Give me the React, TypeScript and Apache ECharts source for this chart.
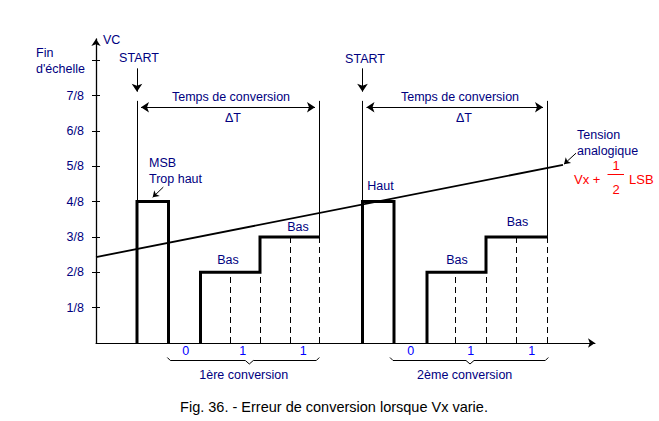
import React, { useEffect, useRef } from 'react';
import * as echarts from 'echarts';

// ---- data (time axis in arbitrary units, voltage in eighths of full scale) ----
const yTickValues = [1, 2, 3, 4, 5, 6, 7, 8];
const yLabelValues = [1, 2, 3, 4, 5, 6, 7];
const yTickLabels = ['1/8', '2/8', '3/8', '4/8', '5/8', '6/8', '7/8'];

const startTimes = [41, 266.5];
const msbEndTimes = [72.5, 298];
const stairStartTimes = [104.5, 331];
const halfBit1Times = [134, 359];
const stepTimes = [164, 390];
const halfBit2Times = [194, 420];
const endTimes = [223, 451];
const msbLevels = [4, 4];
const bit1Levels = [2, 2];
const bit2Levels = [3, 3];

const analogT = [0, 467];
const analogV = [2.43, 5.04];

const deltaTLevel = 6.67;
const markerTop = 6.85;
const startArrowTop = 7.77;
const startArrowTip = 7.0;

const msbArrow = [[67.3, 4.41], [56.7, 4.12]];
const tensionArrow = [[480, 5.37], [468, 5.06]];

const bitDigits = ['0', '1', '1'];

const NAVY = '#000080';
const FONT = '"Liberation Sans", Arial, Helvetica, sans-serif';

export default function App() {
  const ref = useRef<HTMLDivElement>(null);

  useEffect(() => {
    if (!ref.current) return;
    const chart = echarts.init(ref.current, null, { renderer: 'svg' });

    const series: any[] = [];
    const dashed: any[] = [];
    const thin: any[] = [];
    const arrows: any[] = [];
    const startArrows: any[] = [];

    for (let i = 0; i < startTimes.length; i++) {
      const s = startTimes[i];
      const e = msbEndTimes[i];
      const a = stairStartTimes[i];
      const st = stepTimes[i];
      const en = endTimes[i];
      series.push({
        type: 'line',
        data: [[s, 0], [s, msbLevels[i]], [e, msbLevels[i]], [e, 0]],
        symbol: 'none',
        lineStyle: { color: '#000', width: 3, join: 'miter' },
        z: 5,
      });
      series.push({
        type: 'line',
        data: [[a, 0], [a, bit1Levels[i]], [st, bit1Levels[i]], [st, bit2Levels[i]], [en, bit2Levels[i]]],
        symbol: 'none',
        lineStyle: { color: '#000', width: 3, join: 'miter' },
        z: 5,
      });
      dashed.push({ coords: [[halfBit1Times[i], 0], [halfBit1Times[i], bit1Levels[i]]] });
      dashed.push({ coords: [[st, 0], [st, bit1Levels[i]]] });
      dashed.push({ coords: [[halfBit2Times[i], 0], [halfBit2Times[i], bit2Levels[i]]] });
      dashed.push({ coords: [[en, 0], [en, bit2Levels[i]]] });
      thin.push({ coords: [[s, msbLevels[i]], [s, markerTop]] });
      thin.push({ coords: [[en, bit2Levels[i]], [en, markerTop]] });
      arrows.push({ coords: [[s + 4, deltaTLevel], [en - 4, deltaTLevel]] });
      startArrows.push({ coords: [[s, startArrowTop], [s, startArrowTip + 0.11]] });
    }

    // inward half of the y-axis ticks (the outward half is drawn by the axis itself)
    const innerTicks = yTickValues.map((v) => ({ coords: [[0, v], [4, v]] }));

    series.push({
      type: 'lines',
      coordinateSystem: 'cartesian2d',
      data: innerTicks,
      symbol: 'none',
      lineStyle: { color: '#000', width: 1, opacity: 1 },
      z: 3,
    });
    series.push({
      type: 'lines',
      coordinateSystem: 'cartesian2d',
      data: dashed,
      symbol: 'none',
      lineStyle: { color: '#000', width: 1, type: [6, 4], opacity: 1 },
      z: 3,
    });
    series.push({
      type: 'lines',
      coordinateSystem: 'cartesian2d',
      data: thin,
      symbol: 'none',
      lineStyle: { color: '#000', width: 1, opacity: 1 },
      z: 3,
    });
    series.push({
      type: 'lines',
      coordinateSystem: 'cartesian2d',
      data: arrows,
      symbol: ['arrow', 'arrow'],
      symbolSize: 8,
      lineStyle: { color: '#000', width: 1, opacity: 1 },
      z: 3,
    });
    series.push({
      type: 'lines',
      coordinateSystem: 'cartesian2d',
      data: startArrows,
      symbol: ['none', 'arrow'],
      symbolSize: 8,
      lineStyle: { color: '#000', width: 1, opacity: 1 },
      z: 3,
    });
    series.push({
      type: 'lines',
      coordinateSystem: 'cartesian2d',
      data: [{ coords: msbArrow }, { coords: tensionArrow }],
      symbol: ['none', 'arrow'],
      symbolSize: 6,
      lineStyle: { color: '#000', width: 1, opacity: 1 },
      z: 3,
    });
    series.push({
      type: 'line',
      data: [[analogT[0], analogV[0]], [analogT[1], analogV[1]]],
      symbol: 'none',
      lineStyle: { color: '#000', width: 1.8 },
      z: 4,
    });

    const txt = (text: string, x: number, y: number, align = 'center', color = NAVY, size = 12.5) => ({
      type: 'text',
      x,
      y,
      z: 10,
      style: {
        text,
        textAlign: align,
        textVerticalAlign: 'middle',
        fill: color,
        fontSize: size,
        fontFamily: FONT,
      },
    });

    const brace = (x0: number, x1: number, xm: number, y: number) => ({
      type: 'polyline',
      z: 10,
      shape: {
        points: [
          [x0, y - 3], [x0 + 3, y], [xm - 4, y], [xm, y + 3.5], [xm + 4, y], [x1 - 3, y], [x1, y - 3],
        ],
      },
      style: { stroke: '#000', fill: null, lineWidth: 1 },
    });

    const digitX = [185.7, 242.7, 303.3, 410.7, 470.7, 531.7];

    const graphic: any[] = [
      txt('VC', 103, 40, 'left'),
      txt('Fin', 36, 53, 'left'),
      txt("d'échelle", 36, 69, 'left'),
      txt('START', 139, 58),
      txt('START', 365, 59),
      txt('Temps de conversion', 231, 97),
      txt('Temps de conversion', 460, 97),
      txt('ΔT', 233, 118),
      txt('ΔT', 464, 118),
      txt('MSB', 149, 163, 'left'),
      txt('Trop haut', 149, 179, 'left'),
      txt('Bas', 228, 260),
      txt('Bas', 298, 227),
      txt('Haut', 380.5, 186),
      txt('Bas', 457, 260),
      txt('Bas', 517.5, 222),
      txt('Tension', 577, 135, 'left'),
      txt('analogique', 577, 151, 'left'),
      txt('Vx +', 574, 179.5, 'left', '#ff0000', 13),
      txt('1', 616, 165, 'center', '#ff0000', 13),
      {
        type: 'line',
        z: 10,
        shape: { x1: 607.5, y1: 174.5, x2: 624, y2: 174.5 },
        style: { stroke: '#ff0000', lineWidth: 1 },
      },
      txt('2', 616, 189, 'center', '#ff0000', 13),
      txt('LSB', 629, 179.5, 'left', '#ff0000', 13),
      ...digitX.map((x, k) => txt(bitDigits[k % 3], x, 351, 'center', '#0000ff')),
      brace(167.3, 319.3, 249.3, 360.5),
      brace(390, 548.3, 470, 360.5),
      txt('1ère conversion', 243.7, 375),
      txt('2ème conversion', 464.7, 375),
      txt('Fig. 36. - Erreur de conversion lorsque Vx varie.', 334, 407, 'center', '#000', 14.5),
    ];

    chart.setOption({
      animation: false,
      backgroundColor: '#fff',
      grid: { left: 96, right: 64, top: 39, bottom: 78 },
      xAxis: {
        type: 'value',
        min: 0,
        max: 499,
        axisLine: {
          show: true,
          onZero: false,
          symbol: ['none', 'arrow'],
          symbolSize: [7, 7],
          lineStyle: { color: '#000', width: 1 },
        },
        axisTick: { show: false },
        axisLabel: { show: false },
        splitLine: { show: false },
      },
      yAxis: {
        type: 'value',
        min: 0,
        max: 8.6,
        interval: 1,
        position: 'left',
        axisLine: {
          show: true,
          onZero: false,
          symbol: ['none', 'arrow'],
          symbolSize: [7, 7],
          lineStyle: { color: '#000', width: 1.3 },
        },
        axisTick: {
          show: true,
          length: 4,
          customValues: yTickValues,
          lineStyle: { color: '#000', width: 1 },
        },
        axisLabel: {
          show: true,
          margin: 12,
          customValues: yLabelValues,
          formatter: (v: number) => yTickLabels[yLabelValues.indexOf(Math.round(v))] ?? '',
          color: NAVY,
          fontSize: 12.5,
          fontFamily: FONT,
        },
        splitLine: { show: false },
      },
      series,
      graphic,
    });

    return () => chart.dispose();
  }, []);

  return (
    <div
      ref={ref}
      style={{ position: 'absolute', left: 0, top: 0, width: 659, height: 421, background: '#fff' }}
    />
  );
}
